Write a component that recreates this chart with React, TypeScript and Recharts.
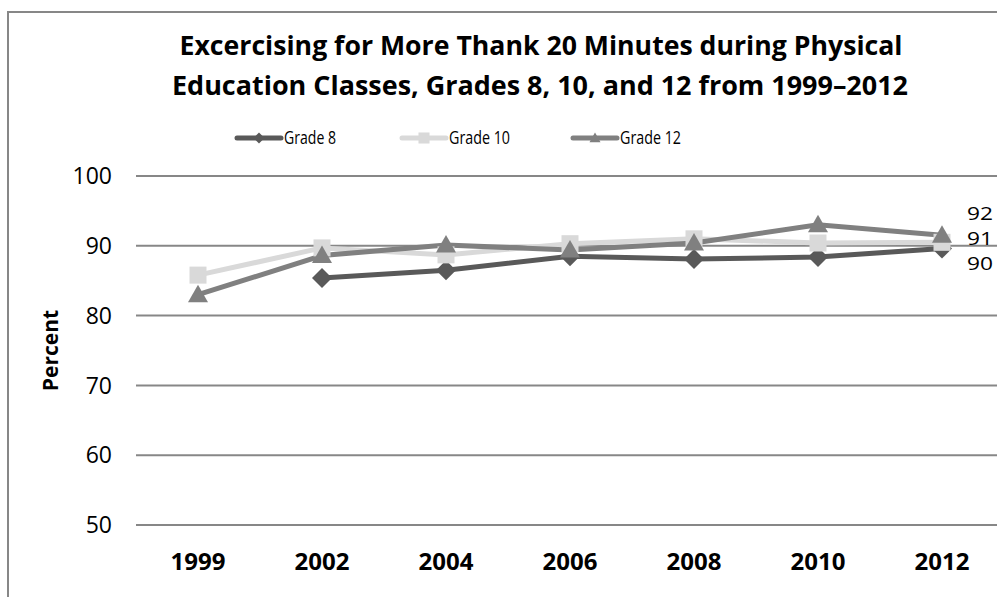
import React from 'react';
import { LineChart, Line, XAxis, YAxis, CartesianGrid, LabelList } from 'recharts';

// chart values
const years = ['1999', '2002', '2004', '2006', '2008', '2010', '2012'];
const grade8 = [null, 85.4, 86.5, 88.5, 88.1, 88.4, 89.6];
const grade10 = [85.8, 89.7, 88.7, 90.3, 91.0, 90.4, 90.5];
const grade12 = [83.0, 88.6, 90.1, 89.4, 90.4, 93.0, 91.5];
const yTicks = [50, 60, 70, 80, 90, 100];
const titleLines = [
  'Excercising for More Thank 20 Minutes during Physical',
  'Education Classes, Grades 8, 10, and 12 from 1999–2012',
];

const FONT = '"Open Sans", "Noto Sans", sans-serif';
const GRID = '#878787';

const series = [
  { key: 'g8', name: 'Grade 8', color: '#595959', marker: 'diamond', labelDy: 15 },
  { key: 'g10', name: 'Grade 10', color: '#d9d9d9', marker: 'square', labelDy: -4 },
  { key: 'g12', name: 'Grade 12', color: '#808080', marker: 'triangle', labelDy: -22 },
];

const chartData = years.map((year, i) => ({
  year,
  g8: grade8[i],
  g10: grade10[i],
  g12: grade12[i],
}));

function markerShape(kind: string, cx: number, cy: number, r: number, color: string, key?: string) {
  if (kind === 'diamond') {
    return (
      <path key={key} d={`M${cx},${cy - r} L${cx + r},${cy} L${cx},${cy + r} L${cx - r},${cy} Z`} fill={color} />
    );
  }
  if (kind === 'square') {
    return <rect key={key} x={cx - r * 0.85} y={cy - r * 0.85} width={r * 1.7} height={r * 1.7} fill={color} />;
  }
  return (
    <path
      key={key}
      d={`M${cx},${cy - r} L${cx + r},${cy + r * 0.75} L${cx - r},${cy + r * 0.75} Z`}
      fill={color}
    />
  );
}

const makeDot = (kind: string, color: string) => (props: any) => {
  const { cx, cy, index, value } = props;
  if (value == null || cy == null || isNaN(cy)) return <g key={`d-${index}`} />;
  return markerShape(kind, cx, cy, 10, color, `d-${index}`);
};

const makeEndLabel = (dy: number) => (props: any) => {
  const { x, y, value, index } = props;
  if (index !== years.length - 1 || value == null) return null;
  return (
    <text
      x={x + 25}
      y={y + dy}
      dy="0.355em"
      fontSize={18}
      fontFamily={FONT}
      textLength={26}
      lengthAdjust="spacingAndGlyphs"
      fill="#000"
    >
      {Math.round(value)}
    </text>
  );
};

const PercentLabel = (props: any) => {
  const vb = props.viewBox || { x: 0, y: 176, height: 349 };
  const cx = 50;
  const cy = vb.y + vb.height / 2;
  return (
    <text
      x={cx}
      y={cy}
      transform={`rotate(-90, ${cx}, ${cy})`}
      textAnchor="middle"
      dominantBaseline="central"
      fontSize={21}
      fontWeight="bold"
      fontFamily={FONT}
      fill="#000"
    >
      Percent
    </text>
  );
};

function Legend() {
  const starts = [237, 402, 573];
  const widths = [52, 61, 61];
  return (
    <svg width={997} height={30} style={{ position: 'absolute', left: 0, top: 124 }}>
      {series.map((s, i) => {
        const x = starts[i];
        const y = 14;
        return (
          <g key={s.key}>
            <line x1={x} x2={x + 44} y1={y} y2={y} stroke={s.color} strokeWidth={5} strokeLinecap="round" />
            {markerShape(s.marker, x + 22, y, s.marker === 'square' ? 6.5 : 5.5, s.color)}
            <text
              x={x + 47}
              y={y}
              dy="0.355em"
              fontSize={18}
              fontFamily={FONT}
              textLength={widths[i]}
              lengthAdjust="spacingAndGlyphs"
              fill="#000"
            >
              {s.name}
            </text>
          </g>
        );
      })}
    </svg>
  );
}

export default function App() {
  return (
    <div
      style={{
        position: 'fixed',
        left: 0,
        top: 0,
        width: 997,
        height: 597,
        overflow: 'hidden',
        background: '#fff',
        fontFamily: FONT,
      }}
    >
      <div
        style={{
          position: 'absolute',
          left: 7,
          top: 11,
          width: 1200,
          height: 900,
          border: `2px solid ${GRID}`,
        }}
      />
      <svg width={997} height={110} style={{ position: 'absolute', left: 0, top: 0 }}>
        <text
          x={541}
          y={55}
          textAnchor="middle"
          fontSize={27}
          fontWeight="bold"
          fontFamily={FONT}
          textLength={723}
          lengthAdjust="spacingAndGlyphs"
          fill="#000"
        >
          {titleLines[0]}
        </text>
        <text
          x={540}
          y={95}
          textAnchor="middle"
          fontSize={27}
          fontWeight="bold"
          fontFamily={FONT}
          textLength={736}
          lengthAdjust="spacingAndGlyphs"
          fill="#000"
        >
          {titleLines[1]}
        </text>
      </svg>
      <Legend />
      <div style={{ position: 'absolute', left: 0, top: 0 }}>
        <LineChart
          width={1010}
          height={597}
          data={chartData}
          margin={{ top: 176, right: 6, bottom: 22, left: 0 }}
        >
          <CartesianGrid vertical={false} stroke={GRID} strokeWidth={2} />
          <XAxis
            dataKey="year"
            height={50}
            axisLine={false}
            tickLine={false}
            tickSize={0}
            tickMargin={28}
            padding={{ left: 62, right: 62 }}
            tick={{ fontSize: 24, fontWeight: 'bold', fill: '#000', fontFamily: FONT }}
          />
          <YAxis
            width={136}
            domain={[50, 100]}
            ticks={yTicks}
            axisLine={false}
            tickLine={false}
            tickSize={0}
            tickMargin={24}
            tick={{ fontSize: 23, fill: '#000', fontFamily: FONT }}
            label={<PercentLabel />}
          />
          {series.map((s) => (
            <Line
              key={s.key}
              dataKey={s.key}
              name={s.name}
              type="linear"
              stroke={s.color}
              strokeWidth={5}
              dot={makeDot(s.marker, s.color)}
              activeDot={false}
              isAnimationActive={false}
            >
              <LabelList dataKey={s.key} content={makeEndLabel(s.labelDy)} />
            </Line>
          ))}
        </LineChart>
      </div>
    </div>
  );
}
